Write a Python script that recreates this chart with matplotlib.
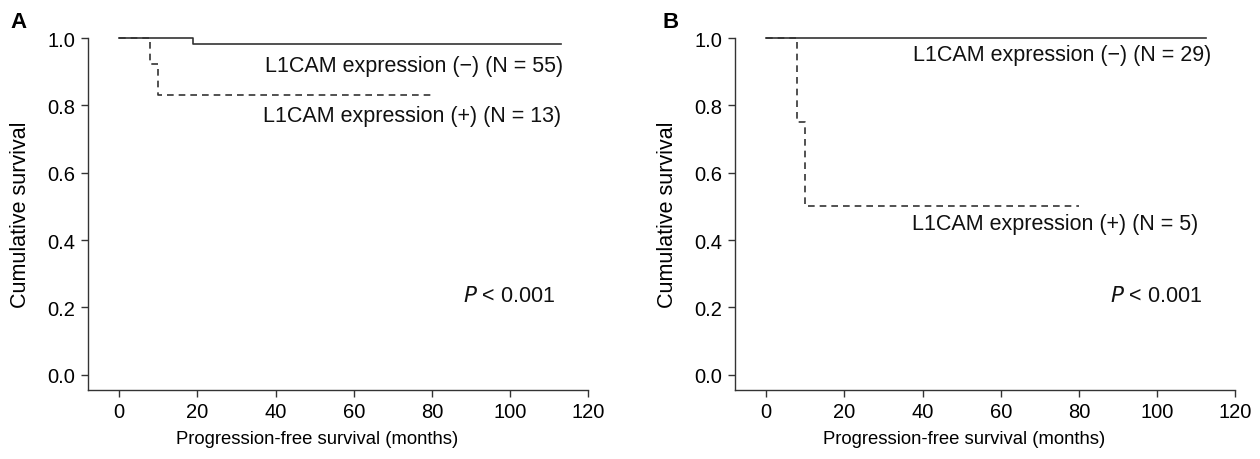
import matplotlib.pyplot as plt

plt.rcParams['font.family'] = ['Liberation Sans', 'DejaVu Sans']

# Panel A: Kaplan-Meier steps (months, survival)
a_neg_t = [0, 19, 113]
a_neg_s = [1.0, 0.982, 0.982]
a_pos_t = [0, 8, 10, 80]
a_pos_s = [1.0, 0.923, 0.83, 0.83]

# Panel B
b_neg_t = [0, 112.5]
b_neg_s = [1.0, 1.0]
b_pos_t = [0, 8, 10, 80]
b_pos_s = [1.0, 0.75, 0.5, 0.5]

labels_a = ['L1CAM expression (\u2212) (N = 55)', 'L1CAM expression (+) (N = 13)']
labels_b = ['L1CAM expression (\u2212) (N = 29)', 'L1CAM expression (+) (N = 5)']
xticks = [0, 20, 40, 60, 80, 100, 120]
yticks = [0.0, 0.2, 0.4, 0.6, 0.8, 1.0]

col = '#333333'
fig = plt.figure(figsize=(12.6, 4.6), dpi=100)
ax1 = fig.add_axes([0.0698, 0.15, 0.397, 0.765])
ax2 = fig.add_axes([0.5833, 0.15, 0.397, 0.765])


def draw(ax, neg_t, neg_s, pos_t, pos_s, labels, lab_pos, p_x, letter, letter_x):
    ax.step(neg_t, neg_s, where='post', color=col, lw=1.2, clip_on=False)
    ax.step(pos_t, pos_s, where='post', color=col, lw=1.2, ls=(0, (4, 3)), clip_on=False)
    ax.set_xlim(-8, 120)
    ax.set_ylim(-0.045, 1.0)
    ax.spines['top'].set_visible(False)
    ax.spines['right'].set_visible(False)
    for s in ['left', 'bottom']:
        ax.spines[s].set_color(col)
        ax.spines[s].set_linewidth(1.0)
    ax.set_xticks(xticks)
    ax.set_yticks(yticks)
    ax.set_yticklabels(['%.1f' % v for v in yticks])
    ax.tick_params(direction='out', length=5, width=1.0, color=col, labelsize=14.5, pad=4)
    ax.set_xlabel('Progression-free survival (months)', fontsize=13.3)
    ax.xaxis.set_label_coords(0.458, -0.115)
    ax.set_ylabel('Cumulative survival', fontsize=15.5, labelpad=12)
    for lab, (x, y) in zip(labels, lab_pos):
        ax.text(x, y, lab, ha='right', va='center', fontsize=15.5, color='#111111')
    ax.text(p_x, 0.235, '$\\it{P}$ < 0.001', ha='left', va='center', fontsize=15.5, color='#111111')
    fig.text(letter_x, 0.952, letter, fontsize=16, fontweight='bold', ha='left', va='center')


draw(ax1, a_neg_t, a_neg_s, a_pos_t, a_pos_s, labels_a, [(113.5, 0.92), (113, 0.77)], 88, 'A', 0.008)
draw(ax2, b_neg_t, b_neg_s, b_pos_t, b_pos_s, labels_b, [(114, 0.95), (110.5, 0.45)], 88, 'B', 0.526)

fig.savefig('out.png', dpi=100)
